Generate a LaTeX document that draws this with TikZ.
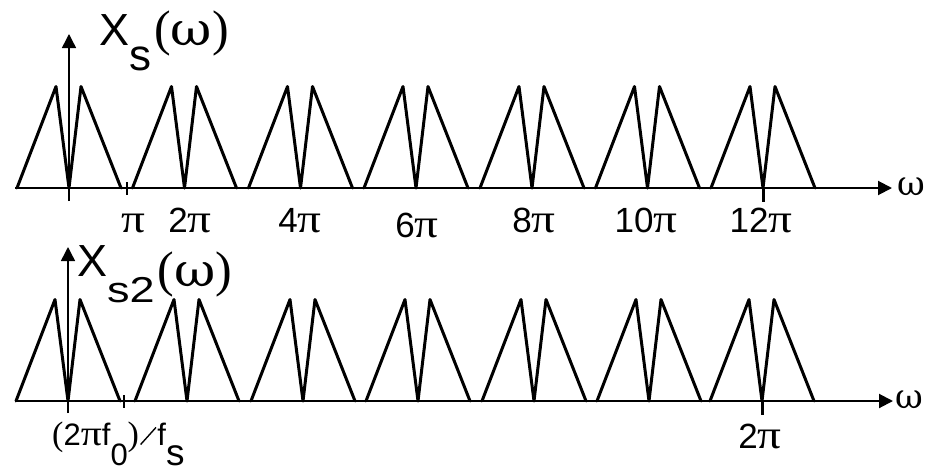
\documentclass[tikz,border=0pt]{standalone}
\usepackage{fontspec}
\usepackage{graphicx}
\setmainfont{Liberation Sans}
\newfontfamily\grk{DejaVu Serif}
\newfontfamily\tms{Liberation Serif}
\usetikzlibrary{arrows.meta}
\newcommand{\pii}{{\tms\scalebox{1.35}[1.15]{π}}}
\newcommand{\omg}{{\grk ω}}
\newcommand{\fsz}[1]{\fontsize{#1}{#1}\selectfont}
\newcommand{\fslash}{\hspace{1pt}\rotatebox{48}{\rule{23pt}{1.4pt}}\hspace{1pt}}
\begin{document}
\begin{tikzpicture}[x=1pt,y=-1pt,
  spec/.style={line width=3pt, line join=round, line cap=round},
  axisline/.style={line width=2pt, -{Triangle[length=14pt,width=14pt]}},
  vaxis/.style={line width=1.5pt, -{Triangle[length=14pt,width=14pt]}},
  tickthin/.style={line width=1.3pt},
  tickthick/.style={line width=3pt},
  ticklab/.style={anchor=base, inner sep=0pt, font=\fsz{35}},
  lab/.style={anchor=base west, inner sep=0pt}
]
\useasboundingbox (0,0) rectangle (934,471);

% ---------- top spectrum ----------
\coordinate (xs1) at (15,188);
\coordinate (xe1) at (892,188);
\coordinate (ys1) at (69,201);
\coordinate (ye1) at (69,34);
\foreach \c in {69,184.5,300.5,416,532,647.5,763}{
  \draw[spec] (\c-52,188) -- (\c-13,86.5) -- (\c,188) -- (\c+12,86.5) -- (\c+52,188);
}
\draw[axisline] (xs1) -- (xe1);
\draw[vaxis] (ys1) -- (ye1);
\coordinate (tp1) at (127,182); \coordinate (tp2) at (127,195);
\draw[tickthin] (tp1) -- (tp2);
\coordinate (tq1) at (763,188); \coordinate (tq2) at (763,202);
\draw[tickthick] (tq1) -- (tq2);

\node[lab] (t1) at (99,45) {\fsz{45}X\raisebox{-25pt}{\fsz{44}s}\hspace{3pt}{\fsz{50}\tms(}{\fsz{46}\scalebox{1.1}[1]{\omg}}{\fsz{50}\tms)}};
\node[lab, font=\fsz{34}] (w1) at (897,195) {\omg};

\node[ticklab] (l1) at (133,232) {\pii};
\node[ticklab] (l2) at (190,232) {2\pii};
\node[ticklab] (l4) at (300,232) {4\pii};
\node[ticklab] (l6) at (417,237) {6\pii};
\node[ticklab] (l8) at (534,232) {8\pii};
\node[ticklab] (l10) at (646,232) {10\pii};
\node[ticklab] (l12) at (761,232) {12\pii};

% ---------- bottom spectrum ----------
\coordinate (xs2) at (15,401);
\coordinate (xe2) at (893,401);
\coordinate (ys2) at (68,413);
\coordinate (ye2) at (68,247);
\foreach \c in {68,187,303,418,534,649,762}{
  \draw[spec] (\c-52,401) -- (\c-13,299.5) -- (\c,401) -- (\c+12,299.5) -- (\c+52,401);
}
\draw[axisline] (xs2) -- (xe2);
\draw[vaxis] (ys2) -- (ye2);
\coordinate (bp1) at (124,395); \coordinate (bp2) at (124,408);
\draw[tickthin] (bp1) -- (bp2);
\coordinate (bq1) at (762,401); \coordinate (bq2) at (762,415);
\draw[tickthick] (bq1) -- (bq2);

\node[lab] (t2) at (77,276) {\fsz{45}X\raisebox{-26pt}{\fsz{36}\scalebox{1.25}[1]{s2}}\hspace{3pt}\raisebox{-10pt}{{\fsz{50}\tms(}{\fsz{46}\scalebox{1.1}[1]{\omg}}{\fsz{50}\tms)}}};
\node[lab, font=\fsz{34}] (w2) at (895,408) {\omg};

\node[lab, font=\fsz{31}] (fl) at (52,445) {{\fsz{34}\tms(}2\pii f\raisebox{-20pt}{0}{\fsz{34}\tms)}\fslash f\raisebox{-20pt}{\fsz{37}s}};
\node[ticklab] (b2) at (760,448) {2\pii};
\end{tikzpicture}
\end{document}
